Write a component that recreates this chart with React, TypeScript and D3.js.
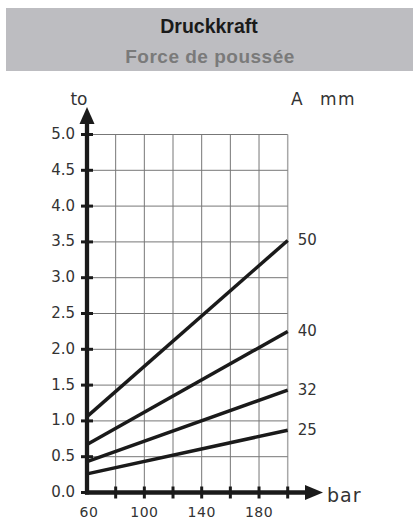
import React from "react"
import * as d3 from "d3"

// Druckkraft (t) against pressure (bar) for piston diameters A (mm)
const pressures = [60, 200]
const diameters = ["50", "40", "32", "25"]
const forceAt60 = [1.06, 0.67, 0.43, 0.26]
const forceAt200 = [3.52, 2.25, 1.43, 0.87]

const xTicks = [60, 80, 100, 120, 140, 160, 180, 200]
const xTickLabels = [60, 100, 140, 180]
const yTicks = [0, 0.5, 1, 1.5, 2, 2.5, 3, 3.5, 4, 4.5, 5]

const W = 418
const H = 526
const labelFont = "'DejaVu Sans', sans-serif"

export default function App() {
  const x = d3.scaleLinear().domain([60, 200]).range([87, 287.7])
  const y = d3.scaleLinear().domain([0, 5]).range([492.5, 134.5])

  const series = diameters.map((d, i) => ({
    name: d,
    points: [
      { p: pressures[0], f: forceAt60[i] },
      { p: pressures[1], f: forceAt200[i] },
    ],
  }))

  const line = d3
    .line<{ p: number; f: number }>()
    .x((d) => x(d.p))
    .y((d) => y(d.f))

  const x0 = x(60)
  const y0 = y(0)

  return (
    <svg
      width={W}
      height={H}
      style={{ position: "absolute", left: 0, top: 0, background: "#fff" }}
    >
      {/* title band */}
      <rect x={6} y={8} width={407} height={63} fill="#bdbdc1" />
      <text
        x={209}
        y={33}
        textAnchor="middle"
        fontFamily="'Liberation Sans', Arial, sans-serif"
        fontWeight="bold"
        fontSize={19.5}
        fill="#1a1a1a"
      >
        Druckkraft
      </text>
      <text
        x={210}
        y={62.5}
        textAnchor="middle"
        fontFamily="'Liberation Sans', Arial, sans-serif"
        fontWeight="bold"
        fontSize={19}
        letterSpacing={0.5}
        fill="#7a7a7a"
      >
        Force de poussée
      </text>

      {/* grid */}
      {xTicks.slice(1).map((t) => (
        <line
          key={"gx" + t}
          x1={x(t)}
          x2={x(t)}
          y1={y(0)}
          y2={y(5)}
          stroke={t === 200 ? "#a8a8a8" : "#777"}
          strokeWidth={t === 200 ? 1.5 : 1}
        />
      ))}
      {yTicks.slice(1).map((t) => (
        <line
          key={"gy" + t}
          x1={x0}
          x2={x(200)}
          y1={y(t)}
          y2={y(t)}
          stroke="#777"
          strokeWidth={1}
        />
      ))}

      {/* force lines */}
      {series.map((s) => (
        <g key={s.name}>
          <path d={line(s.points) || ""} fill="none" stroke="#1a1a1a" strokeWidth={3.5} />
          <text
            x={x(200) + 10}
            y={y(s.points[1].f)}
            dominantBaseline="middle"
            fontFamily={labelFont}
            fontSize={15}
            fill="#333"
          >
            {s.name}
          </text>
        </g>
      ))}

      {/* y axis */}
      <line x1={x0} x2={x0} y1={y0 + 2} y2={122} stroke="#1a1a1a" strokeWidth={4.3} />
      <path d={`M${x0},107 L${x0 - 7.5},124 L${x0 + 7.5},124 Z`} fill="#1a1a1a" />
      {yTicks.map((t) => (
        <g key={"yt" + t}>
          <line x1={x0 - 6} x2={x0 + 6} y1={y(t)} y2={y(t)} stroke="#1a1a1a" strokeWidth={3} />
          <text
            x={75}
            y={y(t)}
            textAnchor="end"
            dominantBaseline="middle"
            fontFamily={labelFont}
            fontSize={15}
            fill="#333"
          >
            {t.toFixed(1)}
          </text>
        </g>
      ))}
      <text x={79} y={105} textAnchor="middle" fontFamily={labelFont} fontSize={17} fill="#333">
        to
      </text>

      {/* x axis */}
      <line x1={x0 - 2} x2={306} y1={y0} y2={y0} stroke="#1a1a1a" strokeWidth={4.3} />
      <path d={`M323,${y0} L305,${y0 - 7.5} L305,${y0 + 7.5} Z`} fill="#1a1a1a" />
      {xTicks.slice(1).map((t) => (
        <line key={"xt" + t} x1={x(t)} x2={x(t)} y1={y0 - 6} y2={y0 + 6} stroke="#1a1a1a" strokeWidth={3} />
      ))}
      {xTickLabels.map((t) => (
        <text
          key={"xl" + t}
          x={x(t) + (t === 60 ? 2 : 0)}
          y={517}
          textAnchor="middle"
          fontFamily={labelFont}
          fontSize={14}
          letterSpacing={0.5}
          fill="#333"
        >
          {t}
        </text>
      ))}
      <text x={327} y={501.5} fontFamily={labelFont} fontSize={19} letterSpacing={1} fill="#333">
        bar
      </text>

      {/* diameter header */}
      <text x={291} y={105} fontFamily={labelFont} fontSize={17} fill="#333">
        A
      </text>
      <text x={320} y={105} fontFamily={labelFont} fontSize={17} letterSpacing={1.5} fill="#333">
        mm
      </text>
    </svg>
  )
}
